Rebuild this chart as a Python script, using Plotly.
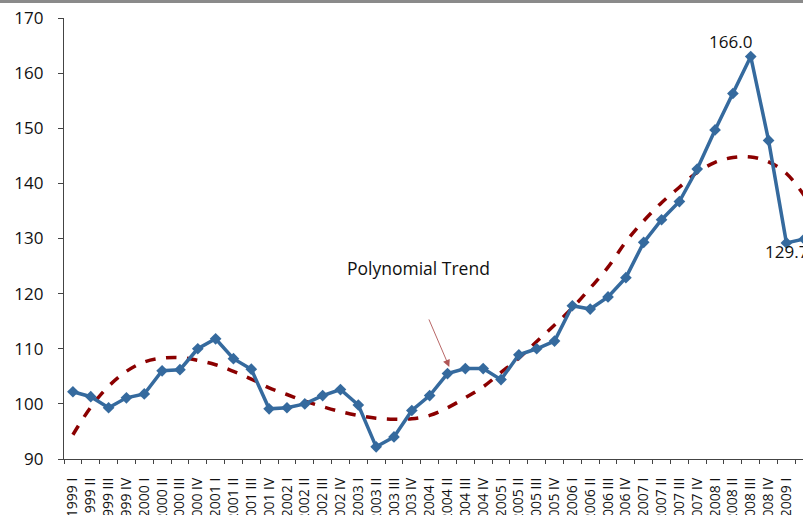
import plotly.graph_objects as go

quarters = ["1999 I", "1999 II", "1999 III", "1999 IV",
            "2000 I", "2000 II", "2000 III", "2000 IV",
            "2001 I", "2001 II", "2001 III", "2001 IV",
            "2002 I", "2002 II", "2002 III", "2002 IV",
            "2003 I", "2003 II", "2003 III", "2003 IV",
            "2004 I", "2004 II", "2004 III", "2004 IV",
            "2005 I", "2005 II", "2005 III", "2005 IV",
            "2006 I", "2006 II", "2006 III", "2006 IV",
            "2007 I", "2007 II", "2007 III", "2007 IV",
            "2008 I", "2008 II", "2008 III", "2008 IV",
            "2009 I", "2009 II"]

index_values = [102.2, 101.3, 99.3, 101.1,
                101.8, 106.0, 106.2, 110.0,
                111.8, 108.2, 106.3, 99.1,
                99.3, 100.0, 101.5, 102.6,
                99.8, 92.2, 94.0, 98.8,
                101.5, 105.5, 106.4, 106.4,
                104.4, 108.9, 110.0, 111.4,
                117.8, 117.2, 119.4, 122.9,
                129.3, 133.4, 136.7, 142.6,
                149.7, 156.3, 163.0, 147.8,
                129.2, 129.9]

trend_values = [94.4, 99.4, 103.2, 105.9,
                107.6, 108.3, 108.4, 107.9,
                107.1, 105.9, 104.5, 102.9,
                101.7, 100.5, 99.5, 98.6,
                97.9, 97.4, 97.2, 97.3,
                97.9, 99.3, 101.1, 103.1,
                105.7, 108.3, 111.3, 114.3,
                117.4, 121.0, 124.8, 129.4,
                133.2, 136.5, 139.3, 142.0,
                143.8, 144.7, 144.8, 143.9,
                141.8, 137.8]

label_points = ["2008 III", "2009 I"]
label_texts = ["166.0", "129.7"]
trend_label = "Polynomial Trend"
y_ticks = [90, 100, 110, 120, 130, 140, 150, 160, 170]

FONT = "Open Sans"
fig = go.Figure()

fig.add_trace(go.Scatter(
    x=quarters, y=trend_values, mode="lines",
    line=dict(color="#8B0000", width=3.5, dash="dash", shape="spline"),
    hoverinfo="skip", showlegend=False))

fig.add_trace(go.Scatter(
    x=quarters, y=index_values, mode="lines+markers",
    line=dict(color="#356A9E", width=3.5),
    marker=dict(symbol="diamond", size=9, color="#356A9E"),
    showlegend=False))

# data labels
lab_y = {q: v for q, v in zip(quarters, index_values)}
shifts = [(-20, 15), (0, -9)]
for q, t, (xs, ys) in zip(label_points, label_texts, shifts):
    fig.add_annotation(x=q, y=lab_y[q], text=t, showarrow=False,
                       xshift=xs, yshift=ys,
                       font=dict(family=FONT, size=17, color="#111"))

# trend annotation text
fig.add_annotation(x=quarters.index("2003 III") + 1.4, y=124.7, text=trend_label,
                   showarrow=False, font=dict(family=FONT, size=17.5, color="#111"))
# arrow
fig.add_annotation(x=quarters.index("2004 II") + 0.1, y=106.7, text="",
                   showarrow=True, arrowhead=2, arrowsize=1.6, arrowwidth=0.9,
                   arrowcolor="rgba(150,30,30,0.75)", ax=-21, ay=-49)

# gray bar at top
fig.add_shape(type="rect", xref="paper", yref="paper", x0=-0.2, x1=1.2,
              ysizemode="pixel", yanchor=1, y0=15, y1=19,
              line=dict(width=0), fillcolor="#8a8a8a")

fig.update_layout(
    width=803, height=515,
    margin=dict(l=64, r=0, t=18, b=56, autoexpand=False),
    plot_bgcolor="white", paper_bgcolor="white",
    font=dict(family=FONT, color="#111"),
)

fig.update_xaxes(
    type="category", range=[-0.5, 40.93], automargin=False,
    showline=True, linecolor="#444", linewidth=1.2,
    ticks="outside", ticklen=4, tickcolor="#444", tickson="boundaries",
    tickangle=-90, tickfont=dict(family=FONT, size=14, color="#111"),
    showgrid=False, zeroline=False, ticklabelstandoff=12,
)
fig.update_yaxes(
    range=[90, 170], tickvals=y_ticks, automargin=False,
    showline=True, linecolor="#444", linewidth=1.2,
    ticks="outside", ticklen=5, tickcolor="#444",
    tickfont=dict(family=FONT, size=17, color="#111"),
    showgrid=False, zeroline=False, ticklabelstandoff=11,
)

fig.write_html("out.html",
               config={"displayModeBar": False},
               post_script="document.body.style.margin='0';document.body.style.overflow='hidden';")
